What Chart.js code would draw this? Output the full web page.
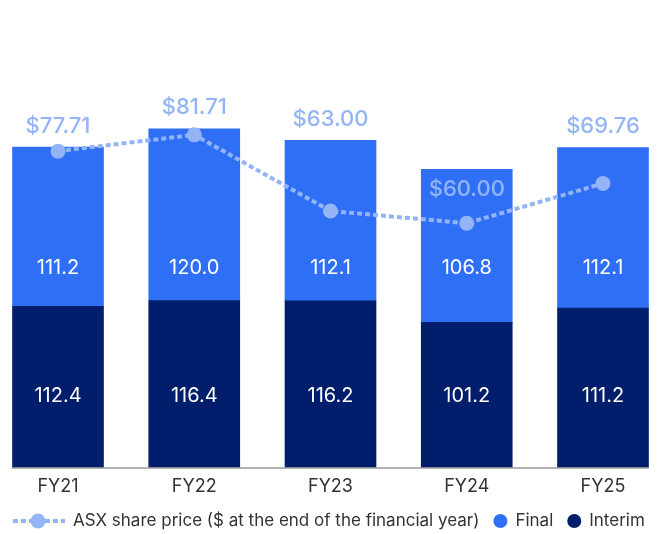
<!DOCTYPE html>
<html>
<head>
<meta charset="utf-8">
<title>Dividends and ASX share price</title>
<script src="https://cdn.jsdelivr.net/npm/chart.js@4/dist/chart.umd.min.js"></script>
<style>
	html, body { margin: 0; padding: 0; background: #fff; }
</style>
</head>
<body>
<canvas id="chart" width="664" height="534"></canvas>

<script type="text/javascript">

	var years = ['FY21', 'FY22', 'FY23', 'FY24', 'FY25'];
	var interimDiv = [112.4, 116.4, 116.2, 101.2, 111.2];
	var finalDiv = [111.2, 120.0, 112.1, 106.8, 112.1];
	var sharePrice = [77.71, 81.71, 63.00, 60.00, 69.76];

	var colFinal = '#2f6ff6';
	var colInterim = '#001e6b';
	var colPrice = '#94b4f8';
	var colText = '#333333';
	var fontFamily = 'Inter, "Noto Sans", sans-serif';

	// FY24 price label sits inside the bar, the rest go above the stack
	var priceLabelInside = [false, false, false, true, false];

	// grey baseline under the bars, running edge to edge of the outer bars
	var baselinePlugin = {
		id: 'baseline',
		afterDatasetsDraw: function(chart) {
			var meta = chart.getDatasetMeta(1);
			var first = meta.data[0], last = meta.data[meta.data.length - 1];
			var y = chart.scales.y.getPixelForValue(0) + 0.5;
			var ctx = chart.ctx;
			ctx.save();
			ctx.strokeStyle = '#9a9a9a';
			ctx.lineWidth = 1.5;
			ctx.beginPath();
			ctx.moveTo(first.x - first.width / 2 - 1, y);
			ctx.lineTo(last.x + last.width / 2, y);
			ctx.stroke();
			ctx.restore();
		}
	};

	// value labels: white numbers in the bars, blue prices over the stacks
	var labelPlugin = {
		id: 'labels',
		afterDraw: function(chart) {
			var ctx = chart.ctx;
			var ys = chart.scales.y;
			var priceMeta = chart.getDatasetMeta(0);
			var interimMeta = chart.getDatasetMeta(1);
			var finalMeta = chart.getDatasetMeta(2);
			ctx.save();
			ctx.textAlign = 'center';
			ctx.textBaseline = 'middle';
			ctx.fillStyle = '#ffffff';
			ctx.font = '400 20px ' + fontFamily;
			for (var i = 0; i < years.length; i++) {
				var x = interimMeta.data[i].x;
				ctx.fillText(interimDiv[i].toFixed(1), x, ys.getPixelForValue(50));
				ctx.fillText(finalDiv[i].toFixed(1), x, ys.getPixelForValue(139));
			}
			ctx.fillStyle = colPrice;
			ctx.font = '500 22px ' + fontFamily;
			for (var j = 0; j < years.length; j++) {
				var pt = priceMeta.data[j];
				var top = finalMeta.data[j].y;
				var ly = priceLabelInside[j] ? pt.y - 34 : top - 21;
				ctx.fillText('$' + sharePrice[j].toFixed(2), pt.x, ly);
			}
			ctx.restore();
		}
	};

	// legend row along the bottom
	var legendPlugin = {
		id: 'legendRow',
		afterDraw: function(chart) {
			var ctx = chart.ctx;
			var y = 521;
			ctx.save();
			ctx.font = '400 17px ' + fontFamily;
			ctx.textBaseline = 'middle';

			ctx.strokeStyle = colPrice;
			ctx.lineWidth = 4;
			ctx.setLineDash([5, 3]);
			ctx.beginPath();
			ctx.moveTo(13, y);
			ctx.lineTo(65, y);
			ctx.stroke();
			ctx.setLineDash([]);
			ctx.fillStyle = colPrice;
			ctx.beginPath();
			ctx.arc(38, y, 7.5, 0, Math.PI * 2);
			ctx.fill();

			var x = 73;
			var items = [
				{ text: chart.data.datasets[0].label, color: null },
				{ text: chart.data.datasets[2].label, color: colFinal },
				{ text: chart.data.datasets[1].label, color: colInterim }
			];
			items.forEach(function(it) {
				if (it.color) {
					x += 21;
					ctx.fillStyle = it.color;
					ctx.beginPath();
					ctx.arc(x, y, 7, 0, Math.PI * 2);
					ctx.fill();
					x += 15;
				}
				ctx.fillStyle = colText;
				ctx.fillText(it.text, x, y);
				x += ctx.measureText(it.text).width;
			});
			ctx.restore();
		}
	};

	var config = {
		data: {
			labels: years,
			datasets: [
				{
					type: 'line',
					label: 'ASX share price ($ at the end of the financial year)',
					data: sharePrice,
					yAxisID: 'y2',
					borderColor: colPrice,
					backgroundColor: colPrice,
					borderWidth: 4,
					borderDash: [5, 3],
					pointRadius: 7.5,
					pointHoverRadius: 7.5,
					pointBorderWidth: 0,
					tension: 0,
					fill: false,
					order: 0
				},
				{
					type: 'bar',
					label: 'Interim',
					data: interimDiv,
					backgroundColor: colInterim,
					stack: 'div',
					barThickness: 91,
					clip: false,
					order: 1
				},
				{
					type: 'bar',
					label: 'Final',
					data: finalDiv,
					backgroundColor: colFinal,
					stack: 'div',
					barThickness: 91,
					clip: false,
					order: 1
				}
			]
		},
		options: {
			responsive: false,
			animation: false,
			layout: {
				padding: { left: 58, right: 61, top: 0, bottom: 29 }
			},
			plugins: {
				legend: { display: false },
				tooltip: { enabled: false }
			},
			scales: {
				x: {
					type: 'category',
					offset: false,
					grid: { display: false, drawTicks: false, tickLength: 0 },
					border: { display: false },
					ticks: {
						color: colText,
						font: { family: fontFamily, size: 18 },
						padding: 8,
						maxRotation: 0,
						autoSkip: false
					}
				},
				y: {
					stacked: true,
					display: false,
					min: 0,
					max: 321
				},
				y2: {
					display: false,
					min: 0,
					max: 113
				}
			}
		},
		plugins: [baselinePlugin, labelPlugin, legendPlugin]
	};

	var ctx = document.getElementById('chart').getContext('2d');
	var chart = new Chart(ctx, config);

</script>
</body>
</html>
